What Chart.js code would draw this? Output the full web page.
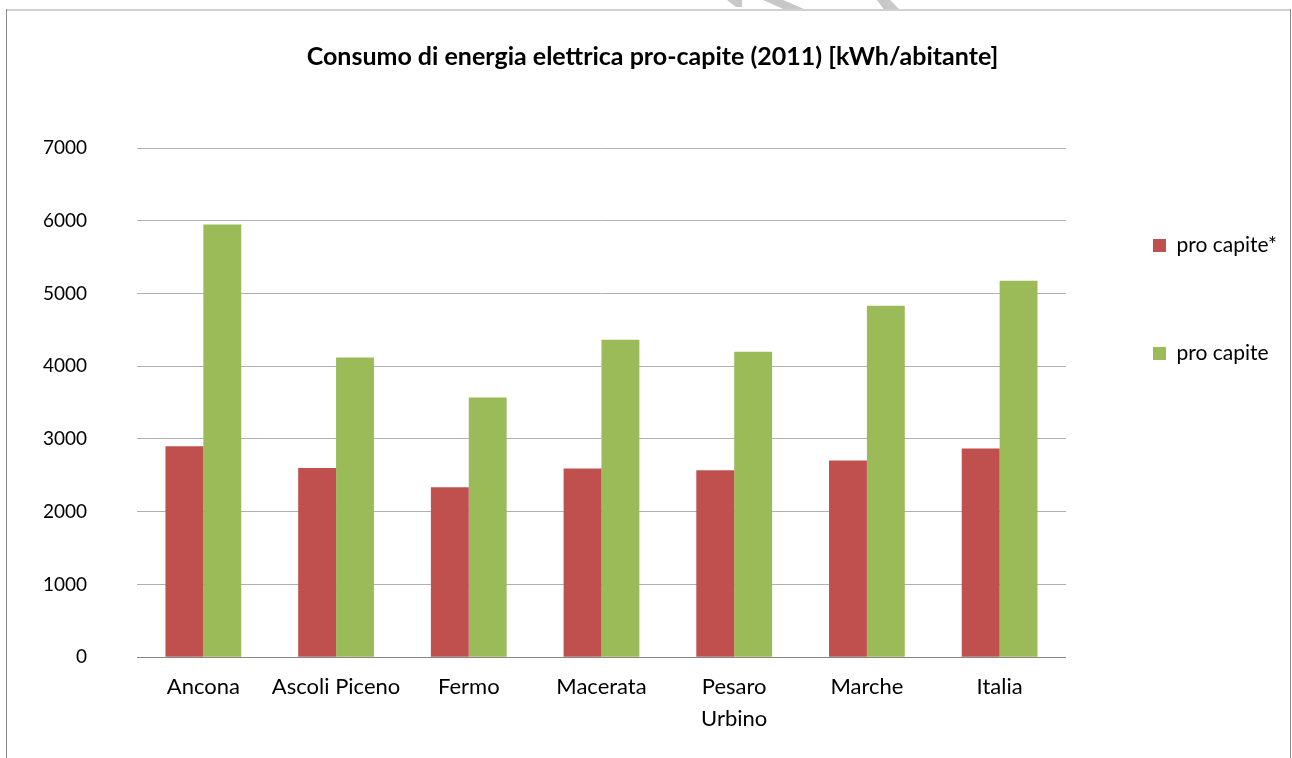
<!DOCTYPE html>
<html>
<head>
<meta charset="utf-8">
<script src="https://cdn.jsdelivr.net/npm/chart.js@4.4.1/dist/chart.umd.min.js"></script>
<style>
html,body{margin:0;padding:0;background:#fff;}
#wrap{position:relative;width:1292px;height:758px;overflow:hidden;background:#fff;}
#c{position:absolute;left:0;top:0;}
.frameL{position:absolute;left:6px;top:9px;width:1px;height:749px;background:#8a8a8a;}
.frameR{position:absolute;left:1290px;top:9px;width:1px;height:749px;background:#8a8a8a;}
.frameT{position:absolute;left:6px;top:9px;width:1285px;height:2px;background:#d0d0d0;}
.wm{position:absolute;top:0;height:10px;background:#c8c8c8;}
</style>
</head>
<body>
<div id="wrap">
  <canvas id="c" width="1292" height="758"></canvas>
  <div class="frameT"></div>
  <div class="frameL"></div>
  <div class="frameR"></div>
  <div class="wm" style="left:727px;width:15px;clip-path:polygon(0 0,100% 0,100% 70%,60% 70%);"></div>
  <div class="wm" style="left:763px;width:41px;clip-path:polygon(0 0,49% 0,100% 90%,49% 90%);"></div>
  <div class="wm" style="left:877px;width:22px;clip-path:polygon(0 0,60% 0,100% 90%,30% 90%);"></div>
</div>
<script>
const title = "Consumo di energia elettrica pro-capite (2011) [kWh/abitante]";
const categories = ["Ancona", "Ascoli Piceno", "Fermo", "Macerata", ["Pesaro", "Urbino"], "Marche", "Italia"];
const seriesNames = ["pro capite*", "pro capite"];
const proCapiteStar = [2900, 2600, 2335, 2595, 2570, 2705, 2870];
const proCapite = [5950, 4120, 3570, 4365, 4200, 4830, 5175];
const yTicks = [0, 1000, 2000, 3000, 4000, 5000, 6000, 7000];

const FONT = "Lato, 'Open Sans', 'DejaVu Sans', sans-serif";

new Chart(document.getElementById('c'), {
  type: 'bar',
  data: {
    labels: categories,
    datasets: [
      { label: seriesNames[0], data: proCapiteStar, backgroundColor: '#C0504D', borderWidth: 0,
        categoryPercentage: 0.571, barPercentage: 1.0 },
      { label: seriesNames[1], data: proCapite, backgroundColor: '#9BBB59', borderWidth: 0,
        categoryPercentage: 0.571, barPercentage: 1.0 }
    ]
  },
  options: {
    responsive: false,
    maintainAspectRatio: false,
    animation: false,
    devicePixelRatio: 1,
    layout: { padding: { left: 18, right: 5, top: 0, bottom: 9 } },
    plugins: {
      title: {
        display: true,
        text: title,
        color: '#000',
        font: { family: FONT, size: 25, weight: 'bold', lineHeight: 1.2 },
        padding: { top: 42, bottom: 76 }
      },
      legend: {
        display: true,
        position: 'right',
        align: 'start',
        fullSize: false,
        labels: {
          color: '#000',
          font: { family: FONT, size: 21 },
          boxWidth: 13,
          boxHeight: 13,
          padding: 87
        }
      },
      tooltip: { enabled: false }
    },
    scales: {
      x: {
        grid: { display: false, drawTicks: false, tickLength: 0 },
        border: { display: true, color: '#868686', width: 1 },
        ticks: {
          color: '#000',
          font: { family: FONT, size: 22, lineHeight: 1.45 },
          padding: 14,
          maxRotation: 0,
          autoSkip: false
        }
      },
      y: {
        min: yTicks[0],
        max: yTicks[yTicks.length - 1],
        afterBuildTicks: (axis) => { axis.ticks = yTicks.map(v => ({ value: v })); },
        afterFit: (axis) => { axis.width = 119; },
        grid: { color: '#b0b0b0', lineWidth: 1, drawTicks: false, tickLength: 0 },
        border: { display: false },
        ticks: {
          color: '#000',
          font: { family: FONT, size: 19 },
          padding: 50,
          callback: (v) => String(v)
        }
      }
    }
  }
});
</script>
</body>
</html>
